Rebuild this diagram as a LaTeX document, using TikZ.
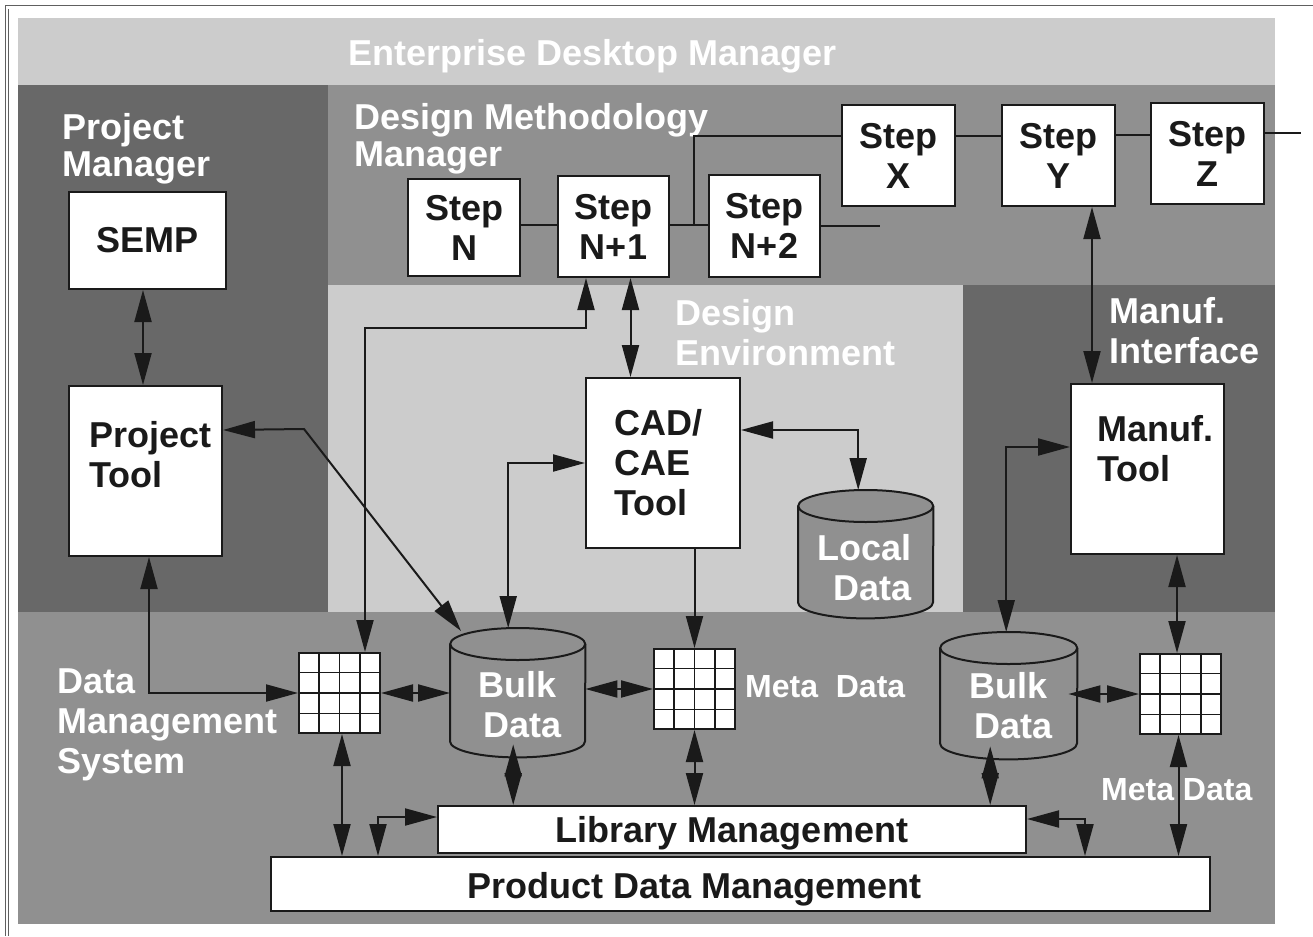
\documentclass[tikz,border=0pt]{standalone}
\usepackage{fontspec}
\setmainfont{Liberation Sans}
\usetikzlibrary{arrows.meta,calc}
\definecolor{lightp}{HTML}{CCCCCC}
\definecolor{midp}{HTML}{909090}
\definecolor{darkp}{HTML}{686868}
\definecolor{ink}{HTML}{1A1A1A}
\definecolor{framec}{HTML}{606060}
\newcommand\myfs[2]{\fontsize{#1pt}{#2pt}\selectfont\bfseries}
\newcommand\mlL[1]{\begin{tabular}[t]{@{}l@{}}#1\end{tabular}}
\newcommand\mlR[1]{\begin{tabular}[t]{@{}r@{}}#1\end{tabular}}
\newcommand\gridlines[1]{%
  \foreach \gf in {0.25,0.5,0.75}{%
    \draw[gl] ($(#1.north west)!\gf!(#1.north east)$) -- ($(#1.south west)!\gf!(#1.south east)$);
    \draw[gl] ($(#1.north west)!\gf!(#1.south west)$) -- ($(#1.north east)!\gf!(#1.south east)$);
  }}
\newcommand\cylshape[3]{%
  \fill[midp] ($(#1.north west)+(0,#3)$) -- ($(#1.south west)+(0,-#3)$)
     arc[start angle=180,end angle=360,x radius=#2pt,y radius=#3pt]
     -- ($(#1.north east)+(0,#3)$)
     arc[start angle=0,end angle=180,x radius=#2pt,y radius=#3pt] -- cycle;
  \draw[conn] ($(#1.north west)+(0,#3)$) -- ($(#1.south west)+(0,-#3)$)
     arc[start angle=180,end angle=360,x radius=#2pt,y radius=#3pt]
     -- ($(#1.north east)+(0,#3)$);
  \draw[conn] ($(#1.north)+(0,#3)$) ellipse[x radius=#2pt,y radius=#3pt];
}
\tikzset{
  wlab/.style={text=white, inner sep=0pt, anchor=base west, font=\myfs{36}{40}},
  blab/.style={text=ink, inner sep=0pt, anchor=base west, font=\myfs{36}{40}},
  box/.style={draw=ink, fill=white, line width=2pt, inner sep=0pt, anchor=north west, font=\myfs{36}{40}, text=ink},
  stepbox/.style={box, align=center},
  gridbox/.style={draw=ink, fill=white, line width=2pt, inner sep=0pt, anchor=north west, minimum width=81pt, minimum height=80pt},
  cylbox/.style={inner sep=0pt, anchor=north west},
  conn/.style={draw=ink, line width=2pt},
  one/.style={conn, -{Triangle[length=32pt,width=17pt]}},
  dbl/.style={conn, {Triangle[length=32pt,width=17pt]}-{Triangle[length=32pt,width=17pt]}},
  gl/.style={draw=ink, line width=1.8pt},
}
\begin{document}
\begin{tikzpicture}[x=1pt,y=-1pt]
\useasboundingbox (0,0) rectangle (1313,936);
\fill[white] (0,0) rectangle (1313,936);
% frame
\draw[framec, line width=1pt] (5.5,936) -- (5.5,6) -- (1313,6);
\draw[framec, line width=0.8pt] (8.5,936) -- (8.5,9);
% panels
\fill[lightp] (18,18) rectangle (1275,85);
\fill[darkp] (18,85) rectangle (328,612);
\fill[midp] (328,85) rectangle (1275,285);
\fill[lightp] (328,285) rectangle (963,612);
\fill[darkp] (963,285) rectangle (1275,612);
\fill[midp] (18,612) rectangle (1275,924);

% panel labels
\node[wlab] (tEDM) at (348,66) {Enterprise Desktop Manager};
\node[wlab, font=\myfs{36}{37}] (tPM) at (62,140) {\mlL{Project\\Manager}};
\node[wlab, font=\myfs{36}{37}] (tDMM) at (354,130) {\mlL{Design Methodology\\Manager}};
\node[wlab] (tDE) at (675,325) {\mlL{Design\\Environment}};
\node[wlab] (tMI) at (1109,323) {\mlL{Manuf.\\Interface}};
\node[wlab] (tDMS) at (57,693) {\mlL{Data\\Management\\System}};
\node[wlab, font=\myfs{32}{36}] (tMD1) at (745,697) {Meta\ \ Data};
\node[wlab, font=\myfs{32}{36}] (tMD2) at (1101,800) {Meta Data};

% boxes
\node[box, minimum width=157pt, minimum height=97pt] (semp) at (68,191) {SEMP};
\node[box, minimum width=153pt, minimum height=170pt] (ptool) at (68,385) {};
\node[stepbox, minimum width=112pt, minimum height=97pt] (sN) at (407,178) {Step\\N};
\node[stepbox, minimum width=111pt, minimum height=101pt] (s1) at (557,175) {Step\\N+1};
\node[stepbox, minimum width=111pt, minimum height=102pt] (s2) at (708,174) {Step\\N+2};
\node[stepbox, minimum width=113pt, minimum height=101pt] (sX) at (841,104) {Step\\X};
\node[stepbox, minimum width=113pt, minimum height=101pt] (sY) at (1001,104) {Step\\Y};
\node[stepbox, minimum width=113pt, minimum height=101pt] (sZ) at (1150,102) {Step\\Z};
\node[box, minimum width=154pt, minimum height=170pt] (cad) at (585,377) {};
\node[box, minimum width=153pt, minimum height=170pt] (mtool) at (1070,383) {};
\node[box, minimum width=588pt, minimum height=47pt, text height=26pt, text depth=0pt] (lm) at (437,805) {Library Management};
\node[box, minimum width=939pt, minimum height=54pt] (pdm) at (270,856) {};

\node[blab] (tPT) at (89,447) {\mlL{Project\\Tool}};
\node[blab] (tCAD) at (614,435) {\mlL{CAD/\\CAE\\Tool}};
\node[blab] (tMT) at (1097,441) {\mlL{Manuf.\\Tool}};
\node[blab] (tPDM) at (467,898) {Product Data Management};

% grids
\node[gridbox] (grid1) at (298,652) {};
\gridlines{grid1}
\node[gridbox] (grid2) at (653,648) {};
\gridlines{grid2}
\node[gridbox] (grid3) at (1139,653) {};
\gridlines{grid3}

% cylinders
\node[cylbox, minimum width=135pt, minimum height=129pt] (bulk1) at (450,628) {};
\cylshape{bulk1}{67.5}{16}
\node[cylbox, minimum width=137pt, minimum height=127pt] (bulk2) at (940,632) {};
\cylshape{bulk2}{68.5}{16}
\node[cylbox, minimum width=135pt, minimum height=128pt] (local) at (798,490) {};
\cylshape{local}{67.5}{16}
\node[wlab, anchor=base east] (tLD) at (912,560) {\mlR{Local\\Data}};
\node[wlab] (tBD1) at (478,697) {\mlL{Bulk\\\hspace*{5pt}Data}};
\node[wlab] (tBD2) at (969,698) {\mlL{Bulk\\\hspace*{5pt}Data}};

% step connections
\coordinate (nA) at ([yshift=3pt]sN.east);
\draw[conn] (nA) -- (nA -| s1.west);
\coordinate (nB) at ([yshift=2pt]s1.east);
\draw[conn] (nB) -- (nB -| s2.west);
\coordinate (jn) at (693.5,226);
\coordinate (xA) at ([yshift=19.5pt]sX.west);
\draw[conn] (jn) |- (xA);
\coordinate (xB) at ([yshift=19.5pt]sX.east);
\draw[conn] (xB) -- (xB -| sY.west);
\coordinate (yB) at ([yshift=20pt]sY.east);
\draw[conn] (yB) -- (yB -| sZ.west);
\coordinate (s2end) at (880,226);
\draw[conn] (s2.east |- s2end) -- (s2end);
\coordinate (zend) at (1301,133);
\draw[conn] (sZ.east |- zend) -- (zend);

% connectors
\coordinate (ss) at ([xshift=-4.5pt]semp.south);
\draw[dbl] (ss) -- (ss |- ptool.north);
\coordinate (pts) at ([xshift=3.5pt]ptool.south);
\draw[dbl] (pts) |- (grid1.west);
\coordinate (pte) at ([yshift=41pt]ptool.east);
\coordinate (bendA) at (304,429);
\coordinate (b1tl) at (461,631);
\draw[dbl] (pte) -- (bendA) -- (b1tl);
\coordinate (s1a) at ([xshift=-27.5pt]s1.south);
\coordinate (bendB) at (365,328);
\draw[dbl] (s1a) |- (bendB) -- (bendB |- grid1.north);
\coordinate (s1b) at ([xshift=17pt]s1.south);
\draw[dbl] (s1b) -- (s1b |- cad.north);
\coordinate (b1n) at ([xshift=-9.5pt]bulk1.north);
\draw[dbl] (b1n) |- (cad.west);
\coordinate (cade) at ([yshift=33pt]cad.east);
\draw[dbl] (cade) -| ([xshift=-7.5pt]local.north);
\draw[one] (cad.south -| grid2.north) -- (grid2.north);
\draw[dbl] (grid1.east) -- (grid1.east -| bulk1.west);
\draw[dbl] (bulk1.east |- grid2.west) -- (grid2.west);
\coordinate (g1s) at ([xshift=2.5pt]grid1.south);
\draw[dbl] (g1s) -- (g1s |- pdm.north);
\coordinate (lmw) at ([yshift=12.5pt]lm.west);
\draw[dbl] (lmw) -| ([xshift=-362.5pt]pdm.north);
\coordinate (b1s) at ([xshift=-4.5pt,yshift=13pt]bulk1.south);
\draw[dbl] (b1s) -- (b1s |- lm.north);
\draw[dbl] (grid2.south) -- (grid2.south |- lm.north);
\coordinate (mtw) at ([yshift=22pt]mtool.west);
\draw[dbl] (mtw) -| ([xshift=-2.5pt]bulk2.north);
\coordinate (b2e) at ([xshift=-9pt]bulk2.east);
\draw[dbl] (b2e |- grid3.west) -- (grid3.west);
\coordinate (b2s) at ([xshift=-18.5pt,yshift=13pt]bulk2.south);
\draw[dbl] (b2s) -- (b2s |- lm.north);
\coordinate (lme) at ([yshift=10.5pt]lm.east);
\draw[dbl] (lme) -| ([xshift=344.5pt]pdm.north);
\coordinate (g3s) at ([xshift=-2pt]grid3.south);
\draw[dbl] (g3s) -- (g3s |- pdm.north);
\coordinate (mts) at ([xshift=29.5pt]mtool.south);
\draw[dbl] (mts) -- (mts |- grid3.north);
\coordinate (sys) at ([xshift=33.5pt]sY.south);
\draw[dbl] (sys) -- (sys |- mtool.north);
\end{tikzpicture}
\end{document}
